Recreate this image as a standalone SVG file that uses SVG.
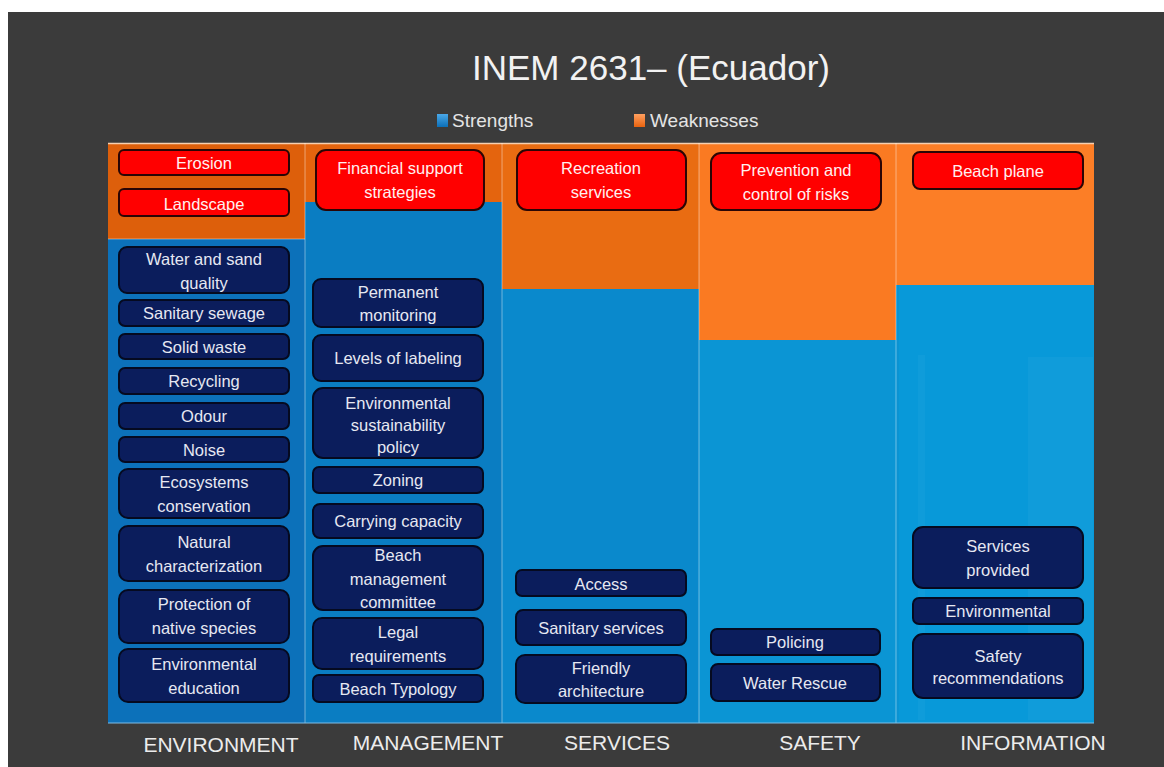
<svg xmlns="http://www.w3.org/2000/svg" width="1164" height="767" viewBox="0 0 1164 767">
<defs>
<style>
.bg{fill:#3b3b3b}
.s{fill:#0b1d5c;stroke:#050a20;stroke-width:2}
.w{fill:#ff0000;stroke:#2a0505;stroke-width:2}
.t{font-family:"Liberation Sans",Arial,sans-serif;font-size:16.5px;fill:#e6e8f2;text-anchor:middle}
.tw{font-family:"Liberation Sans",Arial,sans-serif;font-size:16.5px;fill:#fff0f0;text-anchor:middle}
.cat{font-family:"Liberation Sans",Arial,sans-serif;font-size:21px;fill:#ececec;text-anchor:middle}
.leg{font-family:"Liberation Sans",Arial,sans-serif;font-size:19px;fill:#e4e4e4}
.div{stroke:#ffffff;stroke-opacity:0.35;stroke-width:1.2}
</style>
<linearGradient id="gb" x1="0" y1="0" x2="0" y2="1"><stop offset="0" stop-color="#4aa8e8"/><stop offset="1" stop-color="#0b6fb8"/></linearGradient>
<linearGradient id="go" x1="0" y1="0" x2="0" y2="1"><stop offset="0" stop-color="#ffa060"/><stop offset="1" stop-color="#e8620e"/></linearGradient>
</defs>
<rect x="0" y="0" width="1164" height="767" fill="#ffffff"/>
<rect class="bg" x="8" y="12" width="1156" height="755"/>

<text x="651" y="80" font-family="Liberation Sans,Arial,sans-serif" font-size="35" fill="#f2f2f2" text-anchor="middle">INEM 2631– (Ecuador)</text>

<g id="legend">
<rect x="437" y="114" width="11" height="13" fill="url(#gb)"/>
<text class="leg" x="452" y="127">Strengths</text>
<rect x="634" y="114" width="11" height="13" fill="url(#go)"/>
<text class="leg" x="650" y="127">Weaknesses</text>
</g>

<g id="chart">
<rect x="108" y="143" width="197" height="96" fill="#dd5f0b"/>
<rect x="108" y="239" width="197" height="484" fill="#0c71ba"/>
<rect x="305" y="143" width="197" height="59" fill="#e4640e"/>
<rect x="305" y="202" width="197" height="521" fill="#0a7dc2"/>
<rect x="502" y="143" width="197" height="146" fill="#e96c12"/>
<rect x="502" y="289" width="197" height="434" fill="#0a89cc"/>
<rect x="699" y="143" width="197" height="197" fill="#fa7a22"/>
<rect x="699" y="340" width="197" height="383" fill="#0b95d4"/>
<rect x="896" y="143" width="198" height="142" fill="#fc7e26"/>
<rect x="899" y="285" width="195" height="438" fill="#0899d9"/>
<rect x="896" y="285" width="3" height="438" fill="#0a93d3"/>
<rect x="1028" y="357" width="65" height="363" fill="#ffffff" fill-opacity="0.035"/>
<rect x="918" y="355" width="7" height="365" fill="#ffffff" fill-opacity="0.03"/>
<line x1="108" y1="143.5" x2="1094" y2="143.5" stroke="#f6cfb0" stroke-width="1.5"/>
<line x1="108" y1="239" x2="305" y2="239" stroke="#ffffff" stroke-opacity="0.4" stroke-width="1.2"/>
<line class="div" x1="305" y1="143" x2="305" y2="723"/>
<line class="div" x1="502" y1="143" x2="502" y2="723"/>
<line class="div" x1="699" y1="143" x2="699" y2="723"/>
<line class="div" x1="896" y1="143" x2="896" y2="723"/>
<line x1="108" y1="723" x2="1094" y2="723" stroke="#7fbde6" stroke-width="1"/>
</g>

<g id="connectors"/>

<g id="environment">
<g id="n-erosion"><rect class="w" x="119" y="150" width="170" height="25" rx="5"/><text class="tw" x="204" y="168.5">Erosion</text></g>
<g id="n-landscape"><rect class="w" x="119" y="189" width="170" height="27" rx="5"/><text class="tw" x="204" y="209.5">Landscape</text></g>
<g id="n-water"><rect class="s" x="119" y="247" width="170" height="46" rx="8"/><text class="t" x="204" y="265">Water and sand</text><text class="t" x="204" y="289">quality</text></g>
<g id="n-sewage"><rect class="s" x="119" y="300" width="170" height="26" rx="6"/><text class="t" x="204" y="319">Sanitary sewage</text></g>
<g id="n-solid"><rect class="s" x="119" y="334" width="170" height="25" rx="6"/><text class="t" x="204" y="352.5">Solid waste</text></g>
<g id="n-recycling"><rect class="s" x="119" y="368" width="170" height="26" rx="6"/><text class="t" x="204" y="387">Recycling</text></g>
<g id="n-odour"><rect class="s" x="119" y="403" width="170" height="26" rx="6"/><text class="t" x="204" y="422">Odour</text></g>
<g id="n-noise"><rect class="s" x="119" y="437" width="170" height="25" rx="6"/><text class="t" x="204" y="455.5">Noise</text></g>
<g id="n-ecosystems"><rect class="s" x="119" y="469" width="170" height="49" rx="9"/><text class="t" x="204" y="488">Ecosystems</text><text class="t" x="204" y="512">conservation</text></g>
<g id="n-natural"><rect class="s" x="119" y="526" width="170" height="55" rx="9"/><text class="t" x="204" y="548">Natural</text><text class="t" x="204" y="572">characterization</text></g>
<g id="n-protection"><rect class="s" x="119" y="590" width="170" height="53" rx="9"/><text class="t" x="204" y="610">Protection of</text><text class="t" x="204" y="634">native species</text></g>
<g id="n-education"><rect class="s" x="119" y="649" width="170" height="53" rx="9"/><text class="t" x="204" y="670">Environmental</text><text class="t" x="204" y="694">education</text></g>
</g>

<g id="management">
<g id="n-financial"><rect class="w" x="316" y="150" width="168" height="60" rx="10"/><text class="tw" x="400" y="174">Financial support</text><text class="tw" x="400" y="198">strategies</text></g>
<g id="n-permanent"><rect class="s" x="313" y="279" width="170" height="48" rx="8"/><text class="t" x="398" y="298">Permanent</text><text class="t" x="398" y="321">monitoring</text></g>
<g id="n-levels"><rect class="s" x="313" y="335" width="170" height="46" rx="8"/><text class="t" x="398" y="364">Levels of labeling</text></g>
<g id="n-policy"><rect class="s" x="313" y="388" width="170" height="70" rx="10"/><text class="t" x="398" y="409">Environmental</text><text class="t" x="398" y="431">sustainability</text><text class="t" x="398" y="453">policy</text></g>
<g id="n-zoning"><rect class="s" x="313" y="467" width="170" height="26" rx="6"/><text class="t" x="398" y="486">Zoning</text></g>
<g id="n-carrying"><rect class="s" x="313" y="504" width="170" height="34" rx="7"/><text class="t" x="398" y="527">Carrying capacity</text></g>
<g id="n-committee"><rect class="s" x="313" y="546" width="170" height="64" rx="10"/><text class="t" x="398" y="561">Beach</text><text class="t" x="398" y="585">management</text><text class="t" x="398" y="608">committee</text></g>
<g id="n-legal"><rect class="s" x="313" y="618" width="170" height="51" rx="9"/><text class="t" x="398" y="638">Legal</text><text class="t" x="398" y="662">requirements</text></g>
<g id="n-typology"><rect class="s" x="313" y="675" width="170" height="27" rx="6"/><text class="t" x="398" y="695">Beach Typology</text></g>
</g>

<g id="services">
<g id="n-recreation"><rect class="w" x="517" y="150" width="169" height="60" rx="10"/><text class="tw" x="601" y="174">Recreation</text><text class="tw" x="601" y="198">services</text></g>
<g id="n-access"><rect class="s" x="516" y="570" width="170" height="26" rx="6"/><text class="t" x="601" y="589.5">Access</text></g>
<g id="n-sanitary"><rect class="s" x="516" y="610" width="170" height="35" rx="7"/><text class="t" x="601" y="634">Sanitary services</text></g>
<g id="n-friendly"><rect class="s" x="516" y="655" width="170" height="48" rx="9"/><text class="t" x="601" y="674">Friendly</text><text class="t" x="601" y="697">architecture</text></g>
</g>

<g id="safety">
<g id="n-prevention"><rect class="w" x="711" y="153" width="170" height="57" rx="10"/><text class="tw" x="796" y="176">Prevention  and</text><text class="tw" x="796" y="200">control of risks</text></g>
<g id="n-policing"><rect class="s" x="711" y="629" width="169" height="26" rx="6"/><text class="t" x="795" y="648">Policing</text></g>
<g id="n-rescue"><rect class="s" x="711" y="664" width="169" height="37" rx="7"/><text class="t" x="795" y="689">Water Rescue</text></g>
</g>

<g id="information">
<g id="n-beachplane"><rect class="w" x="913" y="152" width="170" height="37" rx="7"/><text class="tw" x="998" y="177">Beach plane</text></g>
<g id="n-provided"><rect class="s" x="913" y="527" width="170" height="61" rx="10"/><text class="t" x="998" y="552">Services</text><text class="t" x="998" y="576">provided</text></g>
<g id="n-environmental"><rect class="s" x="913" y="598" width="170" height="26" rx="6"/><text class="t" x="998" y="617">Environmental</text></g>
<g id="n-safetyrec"><rect class="s" x="913" y="634" width="170" height="64" rx="10"/><text class="t" x="998" y="662">Safety</text><text class="t" x="998" y="684">recommendations</text></g>
</g>

<g id="categories">
<text class="cat" x="221" y="752">ENVIRONMENT</text>
<text class="cat" x="428" y="750">MANAGEMENT</text>
<text class="cat" x="617" y="750">SERVICES</text>
<text class="cat" x="820" y="750">SAFETY</text>
<text class="cat" x="1033" y="750">INFORMATION</text>
</g>
</svg>
